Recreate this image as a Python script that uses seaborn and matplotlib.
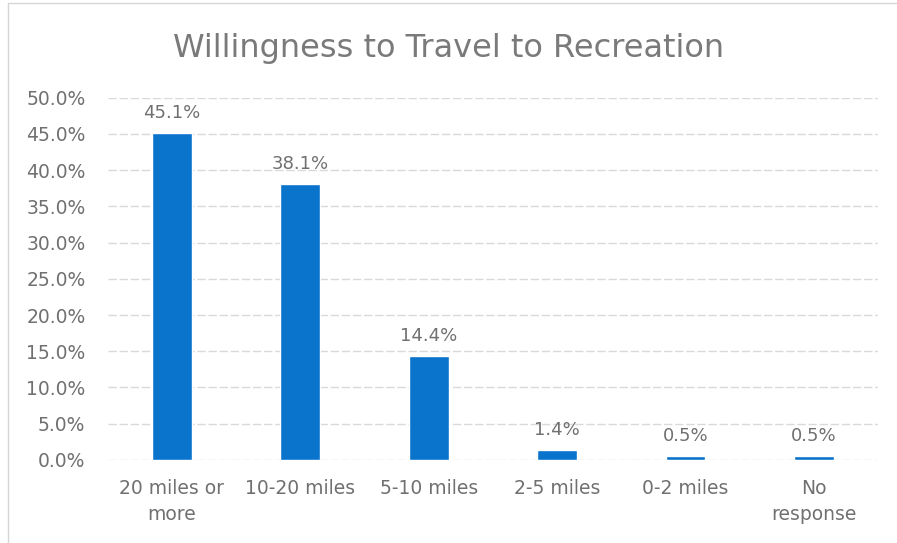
import matplotlib.pyplot as plt
import matplotlib.lines as mlines
import pandas as pd
import seaborn as sns

# Dados do gráfico
categories = ['20 miles or\nmore', '10-20 miles', '5-10 miles', '2-5 miles', '0-2 miles', 'No\nresponse']
values = [45.1, 38.1, 14.4, 1.4, 0.5, 0.5]
yticks = [0, 5, 10, 15, 20, 25, 30, 35, 40, 45, 50]

df = pd.DataFrame({'category': categories, 'value': values})

sns.set_theme(style='white')
plt.rcParams['font.family'] = ['DejaVu Sans']

fig = plt.figure(figsize=(8.97, 5.43), dpi=100)
ax = fig.add_axes([0.12, 0.153, 0.859, 0.667])

sns.barplot(data=df, x='category', y='value', color='#0A73CC', width=0.31,
            saturation=1, ax=ax, zorder=3)

text_color = '#707070'
for i, v in enumerate(values):
    ax.annotate(f'{v:.1f}%', (i, v), xytext=(0, 8), textcoords='offset points',
                ha='center', va='bottom', fontsize=13, color=text_color)

ax.set_ylim(0, 50)
ax.set_yticks(yticks)
ax.set_yticklabels([f'{t:.1f}%' for t in yticks], fontsize=13.5, color=text_color)
ax.tick_params(axis='x', labelsize=13.5, colors=text_color, length=0, pad=14)
ax.tick_params(axis='y', length=0, pad=16)
for lbl in ax.get_xticklabels():
    lbl.set_linespacing(1.45)
ax.grid(axis='y', color='#d9d9d9', linewidth=1, linestyle=(0, (6, 2)), zorder=0)
ax.set_xlabel('')
ax.set_ylabel('')
for s in ax.spines.values():
    s.set_visible(False)

fig.suptitle('Willingness to Travel to Recreation', x=0.5, y=0.94,
             fontsize=23, color='#7a7a7a')

# Moldura do gráfico (bordas superior e esquerda)
frame_kw = dict(transform=fig.transFigure, color='#d6d6d6', linewidth=1)
fig.lines.append(mlines.Line2D([0.009, 1.0], [0.994, 0.994], **frame_kw))
fig.lines.append(mlines.Line2D([0.009, 0.009], [0.0, 0.994], **frame_kw))

fig.savefig('out.png', dpi=100)
